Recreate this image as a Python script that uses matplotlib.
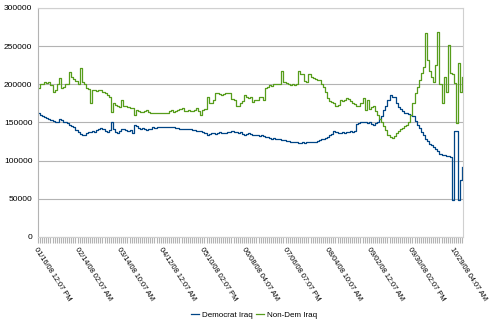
import matplotlib.pyplot as plt
import numpy as np

# values in thousands, one per time step
democrat = [
    162, 160, 159, 157, 156, 155, 153, 152, 150, 151,
    155, 153, 150, 151, 149, 147, 145, 144, 140, 137,
    135, 134, 133, 136, 137, 138, 139, 138, 140, 141,
    143, 141, 139, 138, 140, 150, 142, 137, 136, 139,
    142, 141, 140, 139, 140, 136, 147, 145, 143, 142,
    143, 142, 140, 141, 142, 144, 143, 144, 144, 144,
    144, 144, 144, 144, 144, 144, 143, 143, 142, 142,
    142, 141, 142, 141, 140, 140, 139, 139, 139, 138,
    136, 134, 135, 136, 136, 135, 136, 137, 136, 136,
    136, 137, 138, 139, 138, 137, 136, 137, 135, 134,
    135, 136, 135, 134, 134, 133, 132, 133, 132, 131,
    131, 130, 129, 130, 129, 128, 128, 127, 127, 126,
    126, 125, 125, 124, 124, 123, 123, 124, 123, 124,
    124, 124, 125, 125, 126, 127, 128, 128, 130, 131,
    133, 135, 139, 137, 136, 136, 137, 136, 137, 138,
    139, 138, 139, 148, 149, 150, 151, 150, 149, 150,
    148, 147, 149, 151, 154, 158, 166, 172, 180, 186,
    183, 184, 176, 170, 167, 165, 163, 162, 161, 160,
    158, 152, 147, 143, 138, 133, 129, 126, 122, 120,
    118, 115, 112, 109, 108, 107, 106, 106, 105, 48,
    139, 139, 48, 75, 92,
]
non_dem = [
    195, 200, 201, 203, 202, 203, 199, 190, 193, 201,
    208, 195, 197, 200, 201, 216, 210, 207, 204, 201,
    221, 203, 200, 195, 194, 175, 192, 193, 191, 192,
    192, 190, 188, 186, 183, 164, 175, 173, 171, 170,
    179, 172, 171, 170, 169, 169, 160, 166, 165, 164,
    164, 165, 166, 164, 163, 162, 163, 162, 162, 162,
    162, 163, 162, 165, 166, 164, 165, 166, 168, 169,
    165, 165, 166, 165, 165, 166, 169, 165, 160, 166,
    168, 184, 176, 175, 180, 189, 188, 187, 186, 187,
    189, 188, 189, 181, 179, 171, 172, 175, 178, 186,
    183, 182, 184, 177, 179, 180, 184, 183, 179, 195,
    196, 199, 198, 200, 201, 201, 200, 217, 203, 202,
    200, 199, 200, 199, 201, 217, 213, 214, 204, 203,
    214, 210, 208, 207, 206, 205, 200, 197, 190, 182,
    178, 177, 175, 171, 173, 180, 178, 179, 182, 181,
    178, 175, 174, 172, 171, 175, 182, 166, 180, 168,
    170, 171, 165, 160, 155, 151, 146, 140, 133, 131,
    130, 132, 136, 139, 141, 143, 145, 147, 150, 160,
    175, 188, 197, 206, 215, 223, 267, 232, 218, 210,
    203, 225, 269, 200, 175, 210, 190, 252, 215, 214,
    202, 149, 228, 190, 210,
]
tick_labels = [
    '01/16/08 12:07 PM', '02/14/08 02:07 AM', '03/14/08 10:07 AM',
    '04/12/08 12:07 AM', '05/10/08 02:07 PM', '06/08/08 04:07 AM',
    '07/06/08 07:07 PM', '08/04/08 10:07 AM', '09/02/08 12:07 AM',
    '09/30/08 02:07 PM', '10/29/08 04:07 AM',
]

plt.rcParams['font.family'] = ['Liberation Sans', 'DejaVu Sans']

fig = plt.figure(figsize=(5, 3.31), dpi=100)
ax = fig.add_axes([0.076, 0.284, 0.85, 0.692])

x = np.arange(len(democrat))
ax.plot(x, np.array(democrat) * 1000, color='#004586', lw=0.9,
        drawstyle='steps-post', label='Democrat Iraq')
ax.plot(x, np.array(non_dem) * 1000, color='#579d1c', lw=0.9,
        drawstyle='steps-post', label='Non-Dem Iraq')

ax.set_xlim(0, 204.3)
ax.set_ylim(0, 300000)
ax.set_yticks(range(0, 300001, 50000))
ax.yaxis.grid(True, color='#b3b3b3', lw=0.8)
ax.set_axisbelow(True)

ax.set_xticks(range(0, len(democrat), 20))
ax.set_xticklabels(tick_labels, rotation=-57, ha='left', va='top',
                   rotation_mode='anchor', fontsize=5.3)
ax.set_xticks(x, minor=True)
ax.tick_params(axis='x', which='both', length=4, color='#b3b3b3', width=0.8, pad=3)
ax.tick_params(axis='y', length=0, labelsize=6, pad=4)

for side in ['top', 'right', 'left', 'bottom']:
    ax.spines[side].set_color('#d0d0d0')
    ax.spines[side].set_linewidth(0.8)
ax.spines['left'].set_color('#b3b3b3')

fig.legend(loc='center', bbox_to_anchor=(0.508, 0.048), ncol=2, frameon=False,
           fontsize=5.8, handlelength=1.0, handletextpad=0.3, columnspacing=0.5)

plt.savefig('out.png', dpi=100)
